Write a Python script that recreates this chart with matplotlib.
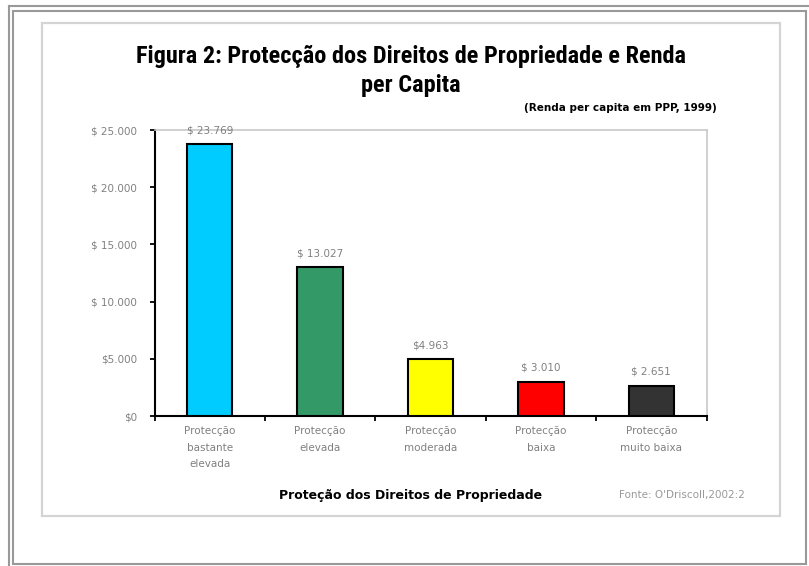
#!/usr/bin/env python3

import matplotlib
matplotlib.use("Agg")
import matplotlib.pyplot as plt
from matplotlib.patches import Rectangle
from matplotlib.lines import Line2D


# =========================
# Chart data
# =========================
CATEGORIES = [
    "Protecção\nbastante\nelevada",
    "Protecção\nelevada",
    "Protecção\nmoderada",
    "Protecção\nbaixa",
    "Protecção\nmuito baixa",
]
VALUES = [23769, 13027, 4963, 3010, 2651]
VALUE_LABELS = ["$ 23.769", "$ 13.027", "$4.963", "$ 3.010", "$ 2.651"]
BAR_COLORS = ["#00CCFF", "#339966", "#FFFF00", "#FF0000", "#333333"]

Y_TICKS = [0, 5000, 10000, 15000, 20000, 25000]
Y_TICK_LABELS = ["$0", "$5.000", "$ 10.000", "$ 15.000", "$ 20.000", "$ 25.000"]

TITLE_LINES = ["Figura 2: Protecção dos Direitos de Propriedade e Renda", "per Capita"]
SUBTITLE = "(Renda per capita em PPP, 1999)"
X_LABEL = "Proteção dos Direitos de Propriedade"
SOURCE = "Fonte: O'Driscoll,2002:2"

W, H = 809, 566
DPI = 100
NARROW = ["Liberation Sans Narrow", "DejaVu Sans Condensed", "Roboto Condensed",
          "Liberation Sans"]
GRAY_TEXT = "#808080"


def fx(px):
    return px / W


def fy(py):
    return 1 - py / H


def main():
    fig = plt.figure(figsize=(W / DPI, H / DPI), dpi=DPI, facecolor="white")

    # frames around the picture
    frame_gray = "#999999"
    fig.add_artist(Line2D([fx(9), fx(9)], [0, fy(6)], transform=fig.transFigure,
                          color=frame_gray, lw=1.5))
    fig.add_artist(Line2D([fx(9), 1], [fy(6), fy(6)], transform=fig.transFigure,
                          color=frame_gray, lw=1.5))
    fig.add_artist(Rectangle((fx(13), fy(564)), fx(806 - 13), (564 - 11) / H,
                             transform=fig.transFigure, fill=False,
                             edgecolor=frame_gray, lw=1.5))
    fig.add_artist(Rectangle((fx(42), fy(516)), fx(780 - 42), (516 - 23) / H,
                             transform=fig.transFigure, fill=False,
                             edgecolor="#d4d4d4", lw=1.6))

    left, right, top, bottom = 154.5, 706.5, 130, 416
    ax = fig.add_axes([fx(left), fy(bottom), fx(right - left), (bottom - top) / H])

    x = list(range(len(VALUES)))
    ax.bar(x, VALUES, width=0.41, color=BAR_COLORS, edgecolor="black", linewidth=1.5,
           zorder=3)
    for xi, v, lbl in zip(x, VALUES, VALUE_LABELS):
        ax.annotate(lbl, (xi, v), xytext=(0, 10), textcoords="offset points",
                    ha="center", va="center", fontsize=7.5, color=GRAY_TEXT)

    ax.set_xlim(-0.5, len(VALUES) - 0.5)
    ax.set_ylim(0, 25000)
    ax.set_yticks(Y_TICKS)
    ax.set_yticklabels(Y_TICK_LABELS, fontsize=7.5, color=GRAY_TEXT)
    ax.set_xticks([i - 0.5 for i in range(len(VALUES) + 1)])
    ax.set_xticklabels([])
    ax.set_xticks(x, minor=True)
    ax.set_xticklabels(CATEGORIES, minor=True, fontsize=7.5, color=GRAY_TEXT,
                       linespacing=1.85, va="top")
    ax.tick_params(axis="both", which="major", direction="out", length=3.5, width=1.3,
                   color="black")
    ax.tick_params(axis="y", pad=9)
    ax.tick_params(axis="x", which="minor", length=0, pad=7)

    for side in ("left", "bottom"):
        ax.spines[side].set_color("black")
        ax.spines[side].set_linewidth(1.5)
    for side in ("top", "right"):
        ax.spines[side].set_color("#c8c8c8")
        ax.spines[side].set_linewidth(1.2)

    fig.text(fx(411), fy(63), TITLE_LINES[0], ha="center", va="baseline", fontsize=17.5,
             fontweight="bold", family=NARROW, fontstretch="condensed")
    fig.text(fx(411), fy(92), TITLE_LINES[1], ha="center", va="baseline", fontsize=17.5,
             fontweight="bold", family=NARROW, fontstretch="condensed")
    fig.text(fx(717), fy(108), SUBTITLE, ha="right", va="center", fontsize=7.5,
             fontweight="bold")
    fig.text(fx(411), fy(495), X_LABEL, ha="center", va="center", fontsize=9,
             fontweight="bold")
    fig.text(fx(745), fy(495), SOURCE, ha="right", va="center", fontsize=7.5,
             color="#999999")

    fig.savefig("out.png", dpi=DPI, facecolor="white")
    plt.close(fig)


if __name__ == "__main__":
    main()
